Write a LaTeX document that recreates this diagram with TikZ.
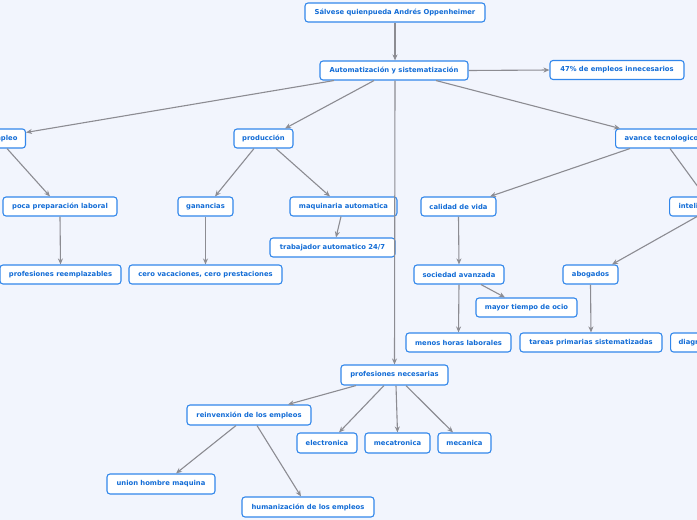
\documentclass[tikz,border=0pt]{standalone}
\usepackage{fontspec}
\setmainfont{DejaVu Sans}
\usetikzlibrary{arrows.meta}
\definecolor{bgc}{RGB}{242,245,253}
\definecolor{boxblue}{RGB}{50,135,235}
\definecolor{txtblue}{RGB}{18,108,214}
\definecolor{linegray}{RGB}{140,140,146}
\tikzset{
  box/.style={draw=boxblue, fill=white, rounded corners=3pt, line width=1.1pt,
    text=txtblue, font=\fontsize{6.8}{7.5}\selectfont\bfseries,
    minimum height=19pt, inner sep=0pt, align=center},
  conn/.style={draw=linegray, line width=1.1pt,
    -{Stealth[length=6pt,width=5pt]}}
}
\begin{document}
\begin{tikzpicture}[x=1pt,y=-1pt]
\useasboundingbox (0,0) rectangle (697,520);
\fill[bgc] (0,0) rectangle (697,520);
\clip (0,0) rectangle (697,520);

\node[box, minimum width=180pt] (top) at (395,12.5) {Sálvese quienpueda Andrés Oppenheimer};
\node[box, minimum width=148pt] (auto) at (394,70.5) {Automatización y sistematización};
\node[box, minimum width=134pt] (p47) at (617,70) {47\% de empleos innecesarios};
\node[box, inner xsep=8pt, anchor=east] (empleo) at (26,138.5) {empleo};
\node[box, minimum width=59pt] (prod) at (263.5,138.5) {producción};
\node[box, inner xsep=9pt, anchor=west] (avance) at (615,138.5) {avance tecnologico};
\node[box, minimum width=114pt] (poca) at (60,206.5) {poca preparación laboral};
\node[box, minimum width=55pt] (gan) at (205.5,206.5) {ganancias};
\node[box, minimum width=107pt] (maq) at (343.5,206.5) {maquinaria automatica};
\node[box, minimum width=125pt] (trab) at (332.5,247.5) {trabajador automatico 24/7};
\node[box, minimum width=75pt] (cal) at (458.5,206.5) {calidad de vida};
\node[box, inner xsep=9pt, anchor=west] (intel) at (669,206.5) {inteligencia artificial};
\node[box, minimum width=121pt] (reem) at (60.5,274.5) {profesiones reemplazables};
\node[box, minimum width=153pt] (cero) at (205.5,274.5) {cero vacaciones, cero prestaciones};
\node[box, minimum width=90pt] (soc) at (459,274.5) {sociedad avanzada};
\node[box, minimum width=55pt] (abog) at (590.5,274.5) {abogados};
\node[box, minimum width=101pt] (ocio) at (526.5,307.5) {mayor tiempo de ocio};
\node[box, minimum width=105pt] (menos) at (458.5,342.5) {menos horas laborales};
\node[box, minimum width=142pt] (tareas) at (591,342.5) {tareas primarias sistematizadas};
\node[box, inner xsep=8pt, anchor=west] (diag) at (670,342.5) {diagnosticos};
\node[box, minimum width=107pt, minimum height=20pt] (nec) at (394.5,375) {profesiones necesarias};
\node[box, minimum width=124pt, minimum height=20pt] (reinv) at (249,415) {reinvenxión de los empleos};
\node[box, minimum width=60pt, minimum height=20pt] (elec) at (327,443) {electronica};
\node[box, minimum width=65pt, minimum height=20pt] (mecat) at (397.5,443) {mecatronica};
\node[box, minimum width=53pt, minimum height=20pt] (mecan) at (464.5,443) {mecanica};
\node[box, minimum width=108pt, minimum height=20pt] (union) at (161,484) {union hombre maquina};
\node[box, minimum width=132pt, minimum height=20pt] (human) at (308,507) {humanización de los empleos};

\draw[conn] (top.south) -- (top.south |- auto.north);
\draw[conn] (auto.east) -- (p47.west);
\draw[conn] ([xshift=-60]auto.south) -- ([yshift=-4]empleo.north east);
\draw[conn] ([xshift=-20]auto.south) -- ([xshift=21.5]prod.north);
\draw[conn] ([xshift=1]auto.south) -- (nec.north);
\draw[conn] ([xshift=42]auto.south) -- ([xshift=5]avance.north west);
\draw[conn] ([xshift=-9.5]prod.south) -- ([xshift=9.5]gan.north);
\draw[conn] ([xshift=12.5]prod.south) -- ([xshift=-13.5]maq.north);
\draw[conn] ([xshift=-19]empleo.south east) -- ([xshift=-10]poca.north);
\draw[conn] (poca.south) -- (reem.north);
\draw[conn] (gan.south) -- (cero.north);
\draw[conn] ([xshift=-2.5]maq.south) -- ([xshift=3.5]trab.north);
\draw[conn] ([xshift=15]avance.south west) -- ([xshift=31.5]cal.north);
\draw[conn] ([xshift=55]avance.south west) -- ([xshift=36]intel.north west);
\draw[conn] (cal.south) -- (soc.north);
\draw[conn] ([xshift=28]intel.south west) -- ([xshift=21.5]abog.north);
\draw[conn] (soc.south) -- (menos.north);
\draw[conn] ([xshift=22]soc.south) -- ([xshift=-21.5]ocio.north);
\draw[conn] (abog.south) -- (tareas.north);
\draw[conn] ([xshift=-38.5]nec.south) -- ([xshift=39]reinv.north);
\draw[conn] ([xshift=-10.5]nec.south) -- ([xshift=12]elec.north);
\draw[conn] ([xshift=1.5]nec.south) -- (mecat.north);
\draw[conn] ([xshift=11.5]nec.south) -- ([xshift=-11.5]mecan.north);
\draw[conn] ([xshift=-13]reinv.south) -- ([xshift=15]union.north);
\draw[conn] ([xshift=8]reinv.south) -- ([xshift=-7]human.north);
\end{tikzpicture}
\end{document}
